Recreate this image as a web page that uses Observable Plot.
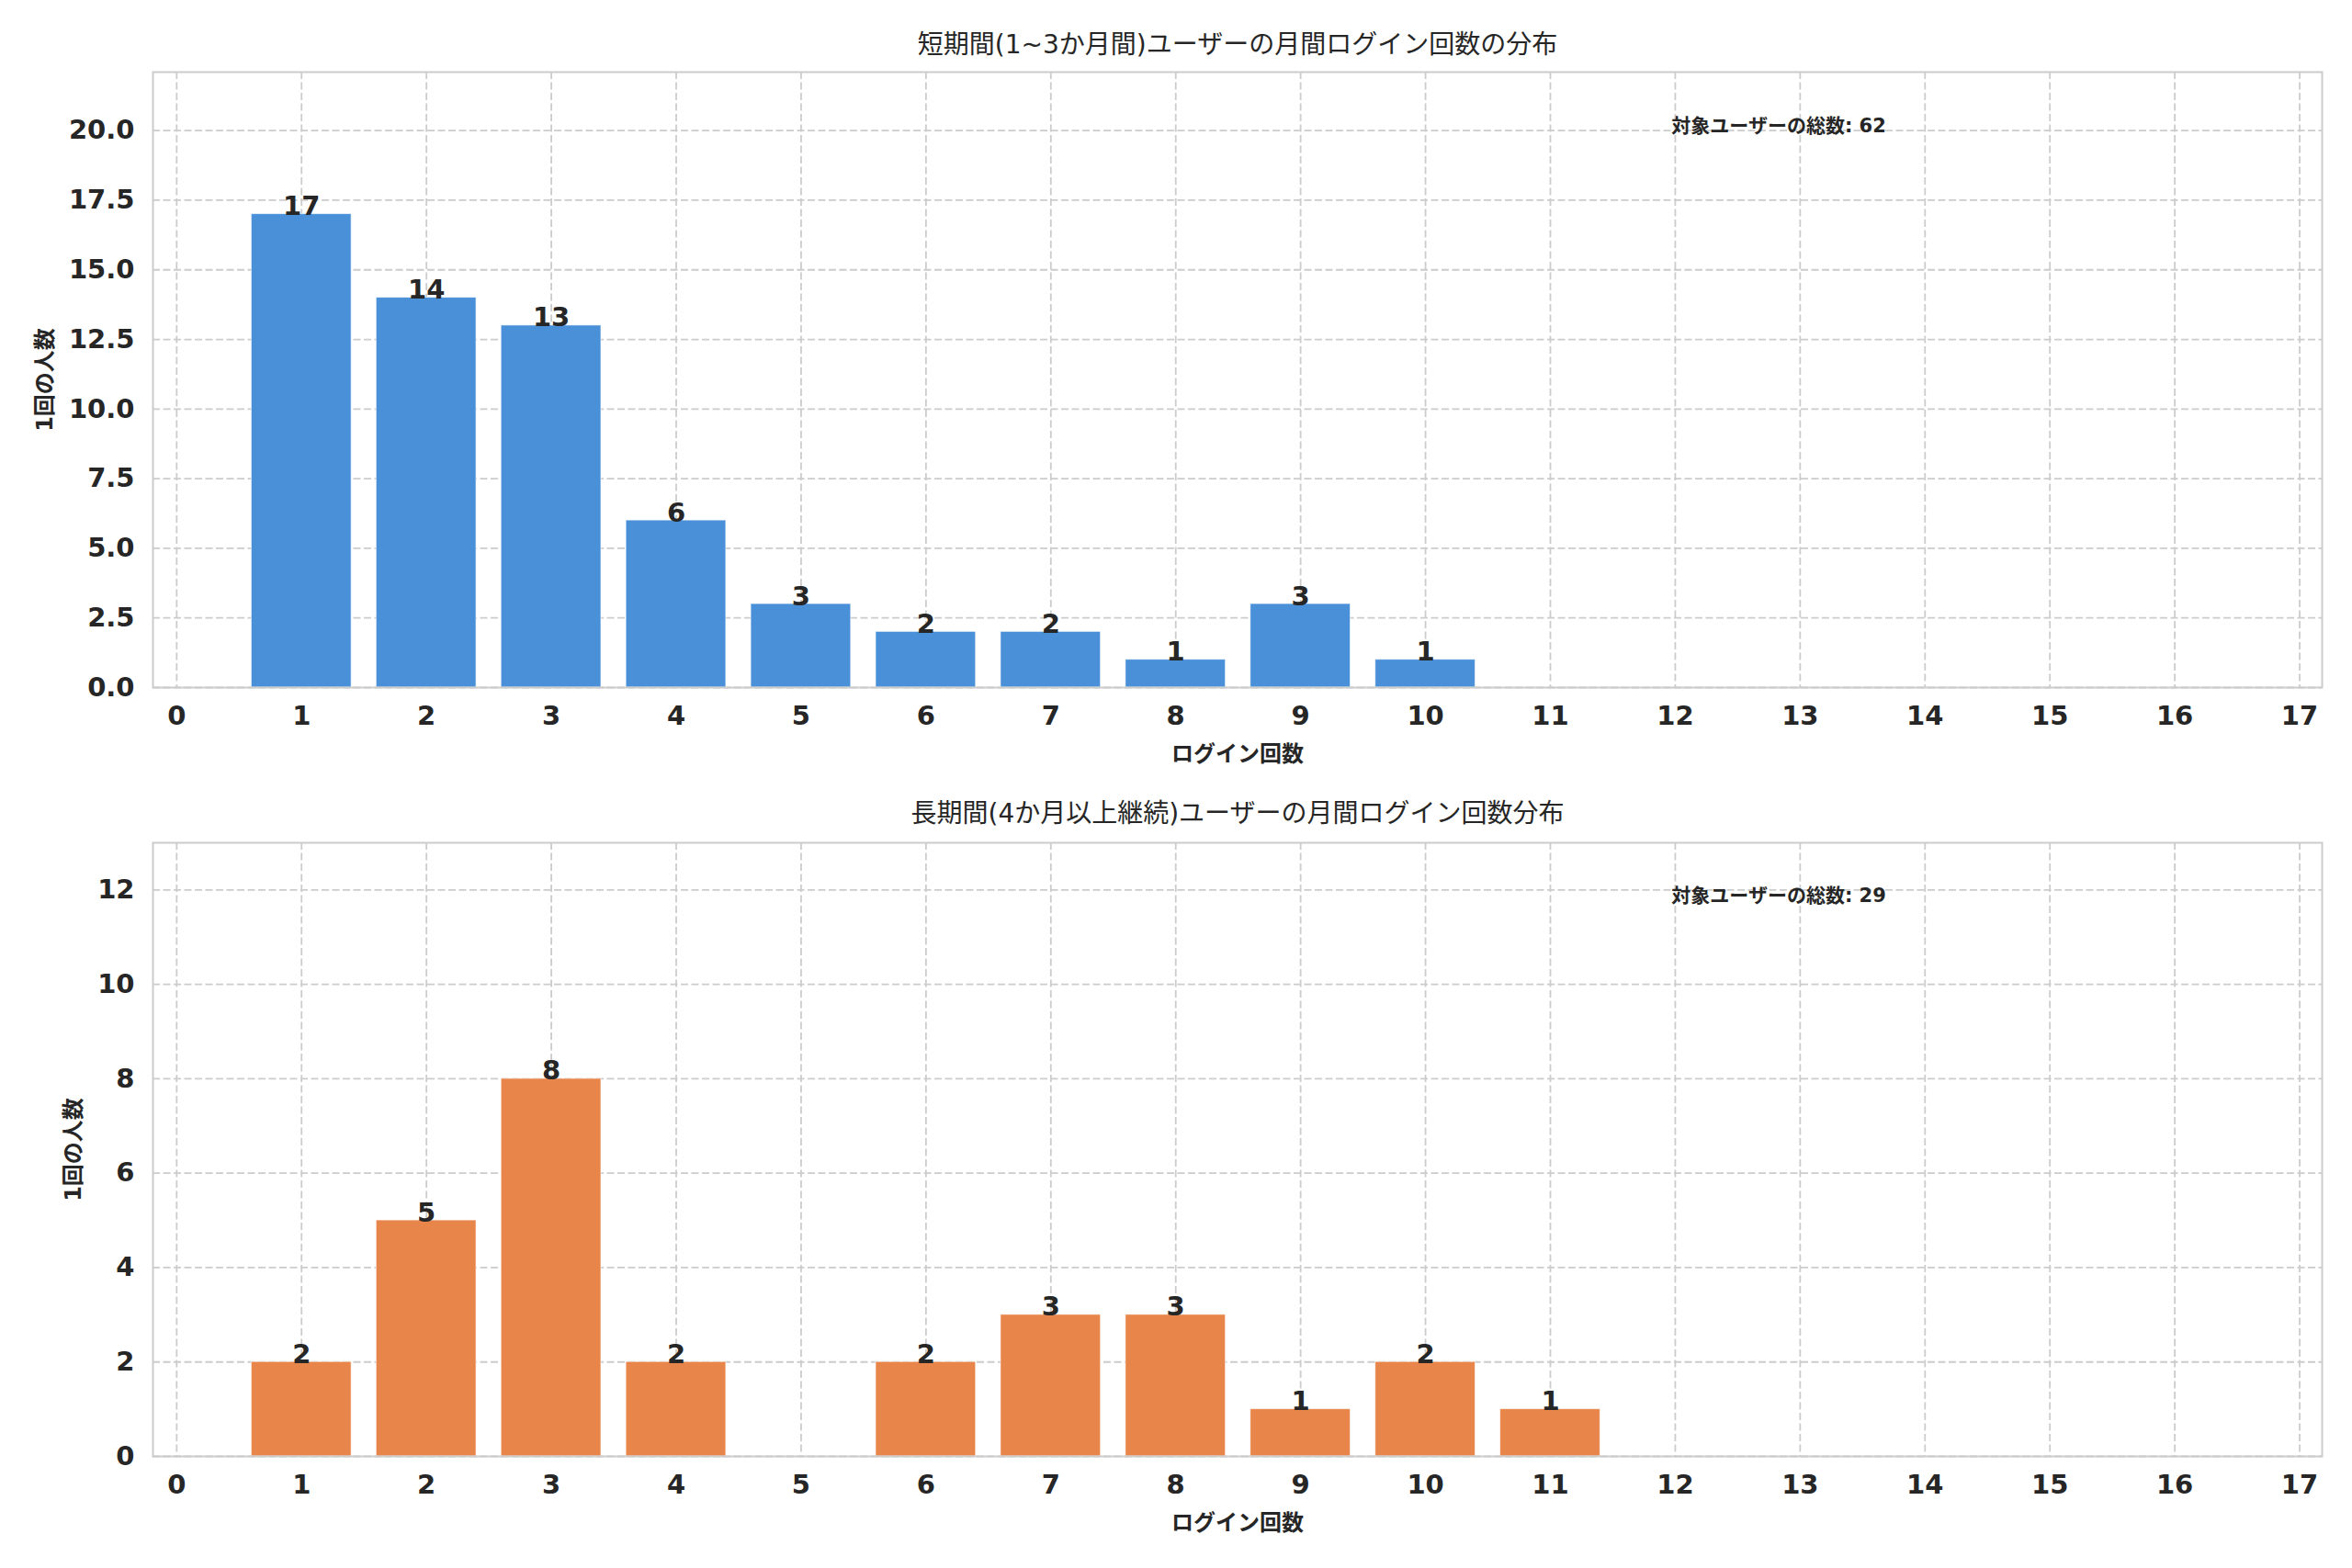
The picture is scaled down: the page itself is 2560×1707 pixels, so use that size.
<!DOCTYPE html>
<html>
<head>
<meta charset="utf-8">
<script src="https://cdn.jsdelivr.net/npm/d3@7"></script>
<script src="https://cdn.jsdelivr.net/npm/@observablehq/plot@0.6"></script>
<style>
  html, body { margin: 0; padding: 0; background: #ffffff; }
  #chart { width: 2560px; }
  #chart svg { display: block; }
  #chart svg, #chart svg text { font-family: "DejaVu Sans", "Noto Sans CJK JP", sans-serif !important; }
</style>
</head>
<body>
<div id="chart"></div>
<script>
// ---- data ----
const titleTop = "短期間(1~3か月間)ユーザーの月間ログイン回数の分布";
const titleBottom = "長期間(4か月以上継続)ユーザーの月間ログイン回数分布";
const xLabel = "ログイン回数";
const yLabel = "1回の人数";
const totalLabel = "対象ユーザーの総数";

const topCategories = [1, 2, 3, 4, 5, 6, 7, 8, 9, 10];
const topValues = [17, 14, 13, 6, 3, 2, 2, 1, 3, 1];
const bottomCategories = [1, 2, 3, 4, 5, 6, 7, 8, 9, 10, 11];
const bottomValues = [2, 5, 8, 2, 0, 2, 3, 3, 1, 2, 1];

const xTicks = d3.range(0, 18);
const topYTicks = [0, 2.5, 5, 7.5, 10, 12.5, 15, 17.5, 20];
const bottomYTicks = [0, 2, 4, 6, 8, 10, 12];
const topYMax = 22.1;
const bottomYMax = 13;

const topColor = "#4a90d9";
const bottomColor = "#e8854a";

const FONT = "'DejaVu Sans', 'Noto Sans CJK JP', sans-serif";
const TEXT = "#262626";
const GRID = "#cccccc";

function panel({cats, vals, title, yTicks, yFmt, yMax, color, height, marginTop, marginBottom, yLabelDx, titleDy}) {
  const data = cats.map((k, i) => ({k, v: vals[i]}));
  const total = d3.sum(vals);
  const labelData = data.filter(d => d.v > 0);
  return Plot.plot({
    width: 2560,
    height,
    marginTop,
    marginBottom,
    marginLeft: 166,
    marginRight: 33,
    style: {fontFamily: FONT, color: TEXT, background: "#ffffff", overflow: "visible"},
    x: {type: "linear", domain: [-0.19, 17.18], label: null},
    y: {domain: [0, yMax], label: null},
    marks: [
      Plot.gridX(xTicks, {stroke: GRID, strokeOpacity: 1, strokeWidth: 1.8, strokeDasharray: "8,3.5"}),
      Plot.gridY(yTicks, {stroke: GRID, strokeOpacity: 1, strokeWidth: 1.8, strokeDasharray: "8,3.5"}),
      Plot.rectY(data, {x1: d => d.k - 0.4, x2: d => d.k + 0.4, y: "v", fill: color, stroke: "#ffffff", strokeWidth: 1, strokeOpacity: 0.6}),
      Plot.text(labelData, {x: "k", y: "v", text: d => String(d.v), lineAnchor: "bottom", dy: 1, fontSize: 29, fontWeight: "bold", fill: TEXT}),
      Plot.frame({stroke: GRID, strokeWidth: 2}),
      Plot.axisX({ticks: xTicks, tickFormat: d => String(d), tickSize: 0, tickPadding: 20, fontSize: 29, fontWeight: "bold", fill: TEXT, label: null}),
      Plot.axisY({ticks: yTicks, tickFormat: yFmt, tickSize: 0, tickPadding: 20, fontSize: 29, fontWeight: "bold", fill: TEXT, label: null}),
      Plot.text([title], {frameAnchor: "top", text: d => d, dy: titleDy, lineAnchor: "middle", fontSize: 28, fill: TEXT}),
      Plot.text([xLabel], {frameAnchor: "bottom", text: d => d, dy: 73, lineAnchor: "middle", fontSize: 24, fontWeight: "bold", fill: TEXT}),
      Plot.text([yLabel], {frameAnchor: "left", text: d => d, dx: yLabelDx, rotate: -90, textAnchor: "middle", lineAnchor: "middle", fontSize: 24, fontWeight: "bold", fill: TEXT}),
      Plot.text([`${totalLabel}: ${total}`], {x: () => 11.97, y: () => yMax * 0.913, text: d => d, textAnchor: "start", lineAnchor: "middle", fontSize: 21, fontWeight: "bold", fill: TEXT})
    ]
  });
}

const chart = document.getElementById("chart");
chart.appendChild(panel({
  cats: topCategories, vals: topValues, title: titleTop,
  yTicks: topYTicks, yFmt: d3.format(".1f"), yMax: topYMax, color: topColor,
  height: 853, marginTop: 78, marginBottom: 105, yLabelDx: -117, titleDy: -29
}));
chart.appendChild(panel({
  cats: bottomCategories, vals: bottomValues, title: titleBottom,
  yTicks: bottomYTicks, yFmt: d => String(d), yMax: bottomYMax, color: bottomColor,
  height: 854, marginTop: 64, marginBottom: 122, yLabelDx: -86, titleDy: -31
}));
</script>
</body>
</html>
